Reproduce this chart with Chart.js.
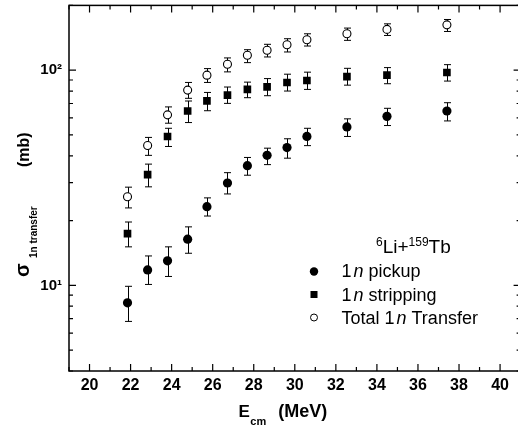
<!DOCTYPE html>
<html>
<head>
<meta charset="utf-8">
<script src="https://cdn.jsdelivr.net/npm/chart.js@4/dist/chart.umd.min.js"></script>
<style>
  html, body { margin: 0; padding: 0; background: #fff; overflow: hidden; }
  canvas { display: block; }
</style>
</head>
<body>
<canvas id="xsec" width="526" height="427" style="width:526px;height:427px"></canvas>
<script>
// E_cm (MeV) of each measurement
const energies = [21.85, 22.83, 23.80, 24.78, 25.72, 26.72, 27.69, 28.65, 29.62, 30.59, 32.54, 34.49, 37.41];

// 1n pickup (mb) with error bar ends
const pickup     = [8.3, 11.8, 13.0, 16.4, 23.2, 29.9, 36.0, 40.2, 43.7, 49.2, 54.5, 61.0, 64.6];
const pickupLow  = [6.8, 10.1, 11.0, 14.1, 21.0, 26.6, 32.5, 36.4, 39.0, 44.6, 49.2, 55.3, 58.1];
const pickupHigh = [9.9, 13.7, 15.1, 18.7, 25.5, 33.4, 39.3, 43.4, 48.0, 53.7, 59.4, 66.5, 70.6];

// 1n stripping (mb)
const stripping     = [17.4, 32.7, 49.2, 64.6, 72.0, 76.6, 81.4, 83.7, 87.7, 89.5, 93.4, 94.8, 97.5];
const strippingLow  = [15.1, 28.7, 44.2, 57.1, 64.8, 70.1, 74.5, 76.1, 80.0, 81.4, 85.2, 86.5, 89.0];
const strippingHigh = [19.7, 36.6, 53.7, 71.9, 78.8, 83.5, 88.0, 91.4, 95.8, 97.9, 102.0, 102.8, 106.1];

// total 1n transfer (mb)
const total     = [25.8, 44.7, 62.0, 80.8, 94.8, 106.6, 117.3, 123.7, 131.3, 138.5, 147.6, 154.7, 162.4];
const totalLow  = [22.9, 40.2, 56.7, 74.0, 87.7, 98.2, 108.4, 115.2, 121.5, 129.5, 137.6, 145.0, 151.3];
const totalHigh = [28.6, 48.7, 67.5, 87.7, 101.7, 114.0, 124.5, 131.9, 140.0, 147.6, 156.9, 164.2, 172.0];

const xLabels = [20, 22, 24, 26, 28, 30, 32, 34, 36, 38, 40];
const yLabels = [10, 100];

const FONT = '"Liberation Sans", Arial, sans-serif';

function pts(vals) {
    return energies.map((e, i) => ({ x: e, y: vals[i] }));
}

// draw a run of text pieces one after another
function richText(ctx, parts, x, y) {
    let cx = x;
    parts.forEach(p => {
        ctx.font = p.font;
        cx += p.gap || 0;
        ctx.fillText(p.text, cx, y + (p.dy || 0));
        cx += ctx.measureText(p.text).width;
    });
}

const decorations = {
    id: 'decorations',
    beforeDatasetsDraw(chart) {
        const ctx = chart.ctx;
        const xs = chart.scales.x, ys = chart.scales.y;
        ctx.save();
        ctx.strokeStyle = '#000';
        ctx.lineWidth = 1;
        const bars = [[pickupLow, pickupHigh], [strippingLow, strippingHigh], [totalLow, totalHigh]];
        bars.forEach(([lo, hi]) => {
            energies.forEach((e, i) => {
                const px = Math.round(xs.getPixelForValue(e)) + 0.5;
                const y1 = ys.getPixelForValue(lo[i]);
                const y2 = ys.getPixelForValue(hi[i]);
                ctx.beginPath();
                ctx.moveTo(px, y1); ctx.lineTo(px, y2);
                ctx.moveTo(px - 3.5, y1); ctx.lineTo(px + 3.5, y1);
                ctx.moveTo(px - 3.5, y2); ctx.lineTo(px + 3.5, y2);
                ctx.stroke();
            });
        });
        ctx.restore();
    },
    afterDraw(chart) {
        const ctx = chart.ctx;
        const a = chart.chartArea;
        const xs = chart.scales.x, ys = chart.scales.y;
        ctx.save();
        ctx.strokeStyle = '#000';
        ctx.fillStyle = '#000';

        // frame
        ctx.lineWidth = 1.5;
        ctx.strokeRect(a.left, a.top, a.right - a.left, a.bottom - a.top);

        // inward ticks
        ctx.lineWidth = 1.2;
        ctx.beginPath();
        for (let v = 19; v <= 41; v++) {
            const px = xs.getPixelForValue(v);
            const len = v % 2 === 0 ? 7 : 4;
            ctx.moveTo(px, a.bottom); ctx.lineTo(px, a.bottom - len);
            ctx.moveTo(px, a.top); ctx.lineTo(px, a.top + len);
        }
        [4, 5, 6, 7, 8, 9, 10, 20, 30, 40, 50, 60, 70, 80, 90, 100, 200].forEach(v => {
            const py = ys.getPixelForValue(v);
            if (py < a.top || py > a.bottom) return;
            const len = (v === 10 || v === 100) ? 7 : 4;
            ctx.moveTo(a.left, py); ctx.lineTo(a.left + len, py);
            ctx.moveTo(a.right, py); ctx.lineTo(a.right - len, py);
        });
        ctx.stroke();

        // x axis title
        ctx.textAlign = 'left';
        ctx.textBaseline = 'alphabetic';
        richText(ctx, [
            { text: 'E', font: 'bold 17px ' + FONT },
            { text: 'cm', font: 'bold 11px ' + FONT, dy: 8, gap: 0.5 },
            { text: '(MeV)', font: 'bold 18px ' + FONT, gap: 12 }
        ], 238.5, 417);

        // y axis title
        ctx.save();
        ctx.translate(29, 277);
        ctx.rotate(-Math.PI / 2);
        ctx.font = 'bold 20px ' + FONT;
        ctx.fillText('σ', 0, 0);
        ctx.font = 'bold 10px ' + FONT;
        ctx.fillText('1n transfer', 19, 7.5);
        ctx.font = 'bold 16px ' + FONT;
        ctx.fillText('(mb)', 110, 0);
        ctx.restore();

        // reaction label
        richText(ctx, [
            { text: '6', font: '12px ' + FONT, dy: -7 },
            { text: 'Li+', font: '19px ' + FONT },
            { text: '159', font: '12px ' + FONT, dy: -7 },
            { text: 'Tb', font: '19px ' + FONT }
        ], 376, 253);

        // legend
        const mx = 314, tx = 341.5;
        const rows = [
            { y: 271.5, base: 277, label: 'pickup', mark: 'circle' },
            { y: 294.5, base: 300.5, label: 'stripping', mark: 'square' },
            { y: 317.5, base: 323.5, label: 'Transfer', mark: 'open', pre: 'Total ' }
        ];
        rows.forEach(r => {
            ctx.lineWidth = 1;
            ctx.beginPath();
            if (r.mark === 'circle') {
                ctx.arc(mx, r.y, 4.2, 0, Math.PI * 2);
                ctx.fill();
            } else if (r.mark === 'square') {
                ctx.fillRect(mx - 3.5, r.y - 3.5, 7, 7);
            } else {
                ctx.arc(mx, r.y, 3.5, 0, Math.PI * 2);
                ctx.stroke();
            }
            const parts = [];
            if (r.pre) parts.push({ text: r.pre, font: '18px ' + FONT });
            parts.push({ text: '1', font: '18px ' + FONT });
            parts.push({ text: 'n', font: 'italic 18px ' + FONT, gap: 2 });
            parts.push({ text: ' ' + r.label, font: '18px ' + FONT });
            richText(ctx, parts, tx, r.base);
        });
        ctx.restore();
    }
};

new Chart(document.getElementById('xsec'), {
    type: 'scatter',
    data: {
        datasets: [{
            label: '1n pickup',
            data: pts(pickup),
            pointStyle: 'circle',
            pointRadius: 4.6,
            backgroundColor: '#000',
            borderColor: '#000',
            borderWidth: 0
        }, {
            label: '1n stripping',
            data: pts(stripping),
            pointStyle: 'rect',
            pointRadius: 5.4,
            backgroundColor: '#000',
            borderColor: '#000',
            borderWidth: 0
        }, {
            label: 'Total 1n Transfer',
            data: pts(total),
            pointStyle: 'circle',
            pointRadius: 4,
            backgroundColor: '#fff',
            borderColor: '#000',
            borderWidth: 1.1
        }]
    },
    options: {
        responsive: false,
        animation: false,
        events: [],
        layout: { padding: { top: 3, right: 4, left: 0, bottom: 0 } },
        plugins: {
            legend: { display: false },
            tooltip: { enabled: false }
        },
        scales: {
            x: {
                type: 'linear',
                min: 19,
                max: 41,
                bounds: 'data',
                grid: { display: false, drawTicks: false },
                border: { display: false },
                afterBuildTicks: s => { s.ticks = xLabels.map(v => ({ value: v })); },
                afterFit: s => {
                    s.height = 56;
                    s.paddingLeft = 0;
                    s.paddingRight = 0;
                },
                ticks: {
                    color: '#000',
                    padding: 5,
                    maxRotation: 0,
                    font: { family: FONT, size: 16, weight: 'bold' }
                }
            },
            y: {
                type: 'logarithmic',
                min: 4,
                max: 200,
                bounds: 'data',
                grid: { display: false, drawTicks: false },
                border: { display: false },
                afterBuildTicks: s => { s.ticks = yLabels.map(v => ({ value: v })); },
                afterFit: s => {
                    s.width = 69;
                    s.paddingTop = 0;
                    s.paddingBottom = 0;
                },
                ticks: {
                    color: '#000',
                    padding: 7,
                    font: { family: FONT, size: 15, weight: 'bold' },
                    callback: v => '10' + (Math.round(Math.log10(v)) === 2 ? '²' : '¹')
                }
            }
        }
    },
    plugins: [decorations]
});
</script>
</body>
</html>
